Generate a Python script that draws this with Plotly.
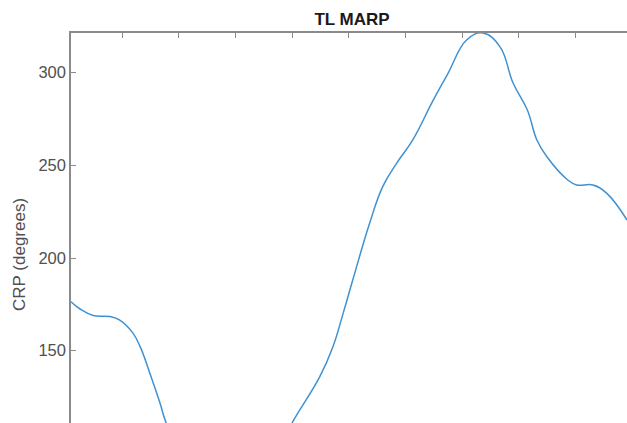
import plotly.graph_objects as go

# Gait cycle position (%) and continuous relative phase (degrees)
cycle_pct = [1, 2.6, 4.9, 7.9, 9.6, 11.9, 13.2, 14.9, 16.7, 17.8, 20, 24, 29, 34,
             37.5, 40, 44.9, 47.2, 49, 50.7, 53.7, 56, 58.5, 61.3, 64.8, 67.5,
             70.8, 73.7, 76.7, 79, 81.5, 83.2, 85, 88.5, 90.2, 93.1, 95.5, 99.1]
crp_deg = [176.4, 172.5, 169, 168.4, 166.5, 159.6, 152.2, 138, 121.8, 111, 98, 82, 74, 82,
           96, 111, 136, 152, 170, 188, 218.9, 238.5, 251.3, 263.7, 284.5, 299.5,
           317.6, 321.4, 313.9, 294.4, 280, 263.7, 254.5, 242.5, 239.4, 239.4, 235, 220.5]

x_ticks = [10, 20, 30, 40, 50, 60, 70, 80, 90]
y_ticks = [150, 200, 250, 300]

W, H = 627, 423
ML, MT = 71, 33
FONT = "Liberation Sans, Arial, sans-serif"
AXIS_GREY = "#8a8a8a"
LABEL_GREY = "#505050"

fig = go.Figure(
    go.Scatter(
        x=cycle_pct, y=crp_deg, mode="lines",
        line=dict(color="rgb(62,146,212)", width=1.5, shape="spline", smoothing=1.2),
        hoverinfo="skip", showlegend=False,
    )
)

fig.update_layout(
    width=W, height=H,
    margin=dict(l=ML, r=0, t=MT, b=0, pad=0),
    paper_bgcolor="white", plot_bgcolor="white",
    font=dict(family=FONT, color=LABEL_GREY, size=16.5),
    title=dict(
        text="<b>TL MARP</b>", xref="container", yref="container",
        x=352 / W, y=1 - 19 / H, xanchor="center", yanchor="middle",
        font=dict(family=FONT, size=17, color="#1a1a1a"),
    ),
    xaxis=dict(
        range=[1, 99.1], side="top", tickvals=x_ticks, showticklabels=False,
        showline=True, linecolor=AXIS_GREY, linewidth=1.5,
        ticks="inside", ticklen=5, tickwidth=1.2, tickcolor=AXIS_GREY,
        showgrid=False, zeroline=False,
    ),
    yaxis=dict(
        range=[111, 321.4], tickvals=y_ticks,
        showline=True, linecolor=AXIS_GREY, linewidth=1.5,
        ticks="inside", ticklen=5, tickwidth=1.2, tickcolor=AXIS_GREY,
        tickfont=dict(family=FONT, size=16.5, color=LABEL_GREY),
        showgrid=False, zeroline=False,
    ),
    annotations=[
        dict(
            text="CRP (degrees)", textangle=-90, showarrow=False,
            xref="paper", yref="paper",
            x=(19 - ML) / (W - ML), y=(H - 255) / (H - MT),
            xanchor="center", yanchor="middle",
            font=dict(family=FONT, size=17, color=LABEL_GREY),
        )
    ],
)

fig.write_html("out.html")
